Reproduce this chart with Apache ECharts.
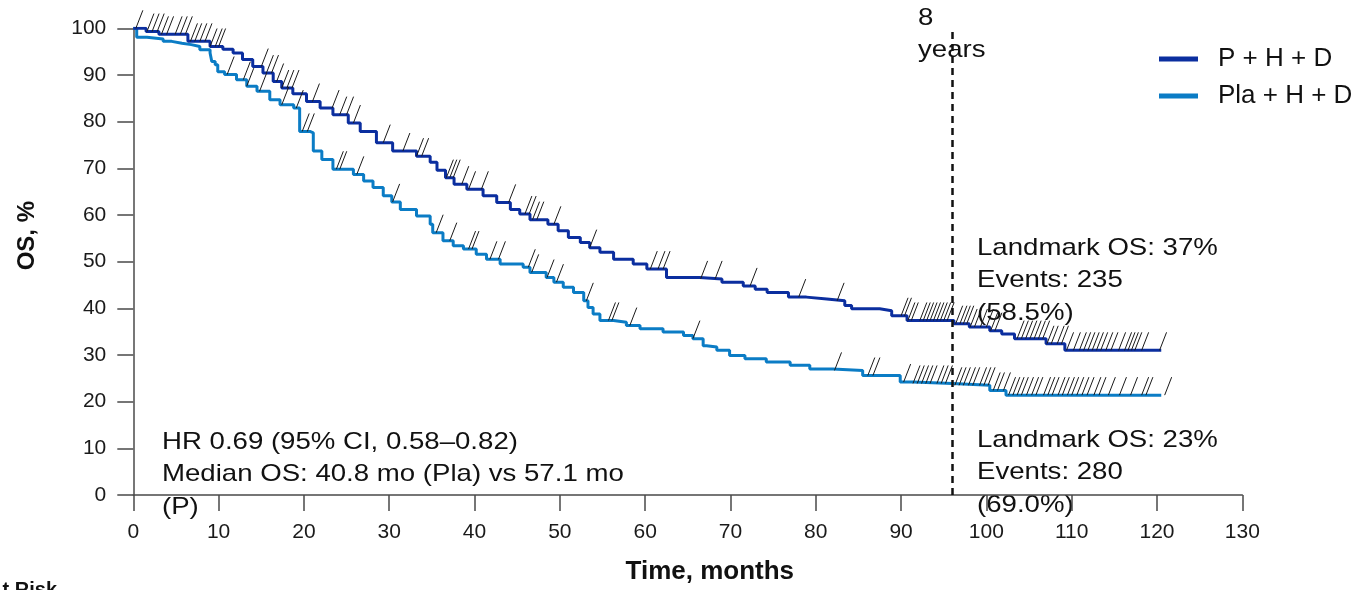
<!DOCTYPE html>
<html>
<head>
<meta charset="utf-8">
<script src="https://cdn.jsdelivr.net/npm/echarts@6/dist/echarts.min.js"></script>
<style>
html,body{margin:0;padding:0;background:#fff;}
#chart{width:1357px;height:590px;}
</style>
</head>
<body>
<div id="chart"></div>
<script>
// ---- DATA ----
const seriesNames = ['P + H + D', 'Pla + H + D'];
const xTicks = [0,10,20,30,40,50,60,70,80,90,100,110,120,130];
const yTicks = [0,10,20,30,40,50,60,70,80,90,100];
const landmarkMonth = 96;

// Kaplan-Meier steps: [time of drop (months), OS % after drop]
const kmP = [
 [0,100],[1.5,99.3],[3,98.7],[6.4,97.2],[9,96.1],[10.5,95.5],[11.7,94.7],[12.8,93.3],[14,91.8],
 [15.2,90.4],[16.4,88.6],[17.4,87.2],[18.7,86],[20.3,84.3],[21.9,82.9],[23.4,81.5],[25.2,79.7],
 [26.6,77.9],[28.5,75.5],[30.4,73.7],[33.2,72.6],[34.8,71.3],[35.6,69.6],[36.6,68],[37.6,66.6],
 [39.1,65.5],[41,64.1],[42.6,62.7],[44.2,61.2],[45.3,60.2],[46.5,59],[48.6,58],[49.8,56.6],
 [51,55.2],[52.4,54.1],[53.5,53],[54.7,52],[56.3,50.5],[58.6,49.5],[60.2,48.4],[62.5,46.6],
 [66.4,46.3],[69,45.6],[71.5,44.8],[72.9,44.1],[74.3,43.4],[76.8,42.4],[78.9,42],[81.3,41.6],
 [83.4,40.6],[84.2,39.9],[87.5,39.5],[88.9,38.4],[90.7,37.4],[96.2,36.7],[98,36],[100.4,35.2],
 [101.8,34.5],[103.3,33.5],[107,32.4],[109.2,31],[120.5,31]
];
const kmPla = [
 [0,100],[0.4,98.1],[1.6,97.7],[3.5,97.2],[4.5,96.8],[5.7,96.5],[6.8,96.1],[7.8,95.4],[9,94.7],
 [9.2,92.9],[9.6,92.2],[9.9,90.7],[10.7,90.1],[12.1,89],[13.3,87.6],[14.5,86.5],[16,84.7],
 [17.2,83.6],[18.8,82.9],[19.5,77.9],[20.7,77.6],[21.1,73.7],[22.1,71.9],[23.4,69.8],[25.8,68.7],
 [27,67.3],[28.1,65.9],[29.3,64.1],[30.3,62.8],[31.3,61.2],[33.2,59.8],[34.8,58],[35.1,56.2],
 [36.3,54.5],[37.5,53.4],[38.7,52.7],[40.2,51.6],[41.4,50.5],[43,49.5],[45.7,48.8],[46.5,47.7],
 [48.4,46.6],[49.3,45.6],[50.4,44.5],[51.6,43.4],[52.8,41.6],[53.3,40.2],[53.9,38.8],[54.7,37.4],
 [56.3,37],[57.8,36.3],[59.4,35.6],[62.1,34.9],[64.5,34.2],[65.6,33.5],[66.8,32],[67.2,31.7],
 [68.4,31],[69.9,29.9],[71.7,29.2],[74.2,28.5],[77,27.8],[79.3,27],[82,26.7],[85.5,25.6],
 [89.9,24.2],[91.4,23.9],[96,23.5],[100.4,22.4],[102.3,21.4],[120.5,21.4]
];

// censoring times (months)
const censorP = [
 0.3,1.6,2.2,2.8,3.3,3.9,4.9,5.5,6.1,6.7,7.2,7.8,8.4,9,9.6,10,
 15,15.6,16.2,16.8,17.4,18,18.6,21,23.3,24.2,25,25.8,29.3,31.6,33.2,33.8,
 36.7,37.1,37.5,38.5,39.3,40.8,44,45.9,46.4,46.8,47.3,49.3,53.5,60.6,61.5,62.1,66.5,68.2,
 72.3,78,82.5,
 90,90.4,90.8,91.2,92.2,92.6,93,93.4,93.8,94.2,94.6,95,95.4,96.4,96.9,97.3,97.7,98.1,98.6,99.3,100,100.5,101,
 103.6,104.1,104.6,105.1,105.6,106.1,106.6,107.1,107.6,108.3,108.8,109.4,
 110.2,110.9,111.4,111.9,112.4,112.9,113.4,114,114.6,115.5,116.2,116.6,117,117.4,118.2,120.3
];
const censorPla = [
 11,12.9,13.3,14.8,17.4,19.1,19.8,20.4,23.8,24.2,26.2,30.4,35.5,37.1,39.3,39.7,41.8,42.8,
 46.3,46.7,48.5,49.6,53.1,55.7,56.1,58.2,65.6,82.2,86.1,86.7,
 90.3,91.4,91.9,92.4,92.9,93.4,94.2,94.7,95.2,96.3,96.8,97.3,97.9,98.4,99.2,99.7,100.2,100.8,101.3,
 102,102.6,103.1,103.6,104.1,104.7,105.3,105.8,106.7,107.2,107.7,108.4,108.9,109.5,110,110.6,
 111.2,111.8,112.6,113.2,114.3,115.6,116.9,118.2,118.7,120.9
];

// ---- BUILD ----
const colP = '#0b2e9f', colPla = '#0b7cc5';
const FONT = '"Liberation Sans", Arial, sans-serif';

function survAt(km, t) {
  let v = km[0][1];
  for (const [ti, vi] of km) { if (ti <= t) v = vi; else break; }
  return v;
}
const censorDataP = censorP.map(t => [t, survAt(kmP, t)]);
const censorDataPla = censorPla.map(t => [t, survAt(kmPla, t)]);

function renderCensor(params, api) {
  const p = api.coord([api.value(0), api.value(1)]);
  return {
    type: 'line',
    shape: { x1: p[0], y1: p[1], x2: p[0] + 7, y2: p[1] - 18 },
    style: { stroke: '#1a1a1a', lineWidth: 1 }
  };
}

const chart = echarts.init(document.getElementById('chart'), null, { renderer: 'canvas' });

const axisCommon = {
  axisLine: { show: true, lineStyle: { color: '#4a4a4a', width: 1.5 } },
  axisTick: { show: true, inside: false, length: 16, lineStyle: { color: '#4a4a4a', width: 1.5 } },
  splitLine: { show: false },
  axisLabel: { color: '#1a1a1a', fontSize: 21, fontFamily: FONT, margin: 27 }
};

const textBlock = (x, yTop, text) => ({
  type: 'text', x: x, y: yTop, scaleX: 1.15, silent: true,
  style: { text: text, font: '24px ' + FONT, lineHeight: 32.5, fill: '#111', verticalAlign: 'top', textAlign: 'left' }
});

chart.setOption({
  animation: false,
  backgroundColor: '#ffffff',
  grid: { left: 133.3, right: 114.7, top: 28.3, bottom: 93.3, containLabel: false },
  legend: {
    data: seriesNames,
    orient: 'vertical',
    left: 1154, top: 41,
    icon: 'rect', itemWidth: 39, itemHeight: 5, itemGap: 11,
    textStyle: { fontSize: 26, fontFamily: FONT, color: '#111', padding: [0, 0, 0, 15] }
  },
  xAxis: Object.assign({}, axisCommon, {
    type: 'value', min: 0, max: 130, interval: 10,
    name: 'Time, months', nameLocation: 'middle', nameGap: 64,
    nameTextStyle: { fontSize: 26, fontWeight: 'bold', fontFamily: FONT, color: '#111', padding: [0, 0, 0, 44] }
  }),
  yAxis: Object.assign({}, axisCommon, {
    type: 'value', min: 0, max: 100, interval: 10,
    name: 'OS, %', nameLocation: 'middle', nameGap: 94, nameRotate: 90,
    nameTextStyle: { fontSize: 24, fontWeight: 'bold', fontFamily: FONT, color: '#111', padding: [0, 0, 0, 52] }
  }),
  series: [
    {
      name: seriesNames[0], type: 'line', step: 'end', data: kmP,
      showSymbol: false, symbol: 'none', z: 3,
      lineStyle: { color: colP, width: 3 }, itemStyle: { color: colP },
      markLine: {
        silent: true, symbol: ['none', 'none'], label: { show: false },
        lineStyle: { color: '#111', type: [7, 5], width: 2.5 },
        data: [{ xAxis: landmarkMonth }]
      }
    },
    {
      name: seriesNames[1], type: 'line', step: 'end', data: kmPla,
      showSymbol: false, symbol: 'none', z: 2,
      lineStyle: { color: colPla, width: 3 }, itemStyle: { color: colPla }
    },
    { type: 'custom', renderItem: renderCensor, data: censorDataP, z: 4, silent: true },
    { type: 'custom', renderItem: renderCensor, data: censorDataPla, z: 4, silent: true }
  ],
  graphic: [
    textBlock(918, 2, '8\nyears'),
    textBlock(977, 232, 'Landmark OS: 37%\nEvents: 235\n(58.5%)'),
    textBlock(977, 424, 'Landmark OS: 23%\nEvents: 280\n(69.0%)'),
    textBlock(162, 426, 'HR 0.69 (95% CI, 0.58\u20130.82)\nMedian OS: 40.8 mo (Pla) vs 57.1 mo\n(P)'),
    {
      type: 'text', x: 57, y: 580, silent: true,
      style: { text: 'At Risk', font: 'bold 20px ' + FONT, fill: '#111', textAlign: 'right', verticalAlign: 'top' }
    }
  ]
});
</script>
</body>
</html>
